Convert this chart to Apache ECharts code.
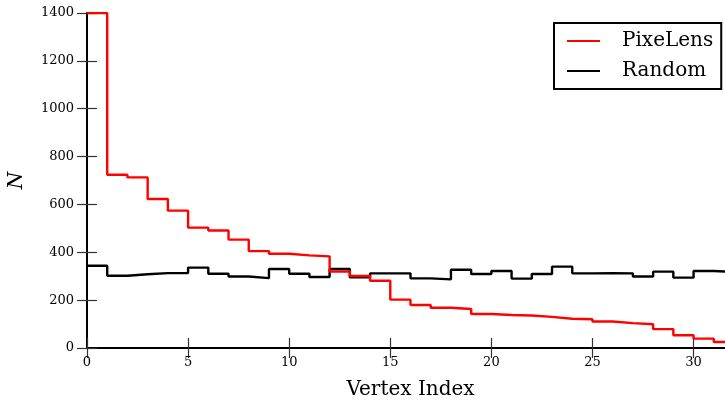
<!DOCTYPE html>
<html><head><meta charset="utf-8">
<script src="https://cdn.jsdelivr.net/npm/echarts@6/dist/echarts.min.js"></script>
<style>html,body{margin:0;padding:0;background:#fff}#c{width:725px;height:400px}</style>
</head><body><div id="c"></div>
<script>
const xTicks = [0, 5, 10, 15, 20, 25, 30];
const yTicks = [0, 200, 400, 600, 800, 1000, 1200, 1400];
const pixeLens = [1400, 724, 713, 623, 574, 503, 491, 453, 405, 394, 387, 383,
  320, 301, 281, 202, 180, 168, 163, 142, 138, 136, 130, 122,
  120, 111, 104, 99, 79, 53, 39, 25];
const random = [344, 302, 308, 313, 313, 336, 310, 299, 292, 330, 310, 297,
  330, 295, 312, 312, 291, 287, 327, 309, 322, 290, 309, 340,
  312, 313, 312, 299, 319, 294, 322, 318];

function toSteps(arr){
  const d = arr.map((v,i)=>[i,v]);
  d.push([arr.length, arr[arr.length-1]]);
  return d;
}
const FONT = 'DejaVu Serif';
const chart = echarts.init(document.getElementById('c'));
const axisCommon = {
  type:'value', min:0,
  axisLine:{show:true, lineStyle:{color:'#000', width:2}},
  axisTick:{show:true, inside:true, length:10, lineStyle:{color:'#333', width:1.2}},
  splitLine:{show:false}
};
chart.setOption({
  animation:false,
  grid:{left:87, top:13, width:647, height:335, containLabel:false, outerBoundsMode:'none'},
  legend:{
    orient:'vertical', left:554, top:23,
    data:['PixeLens','Random'],
    icon:'rect', itemWidth:33, itemHeight:2, itemGap:10,
    borderColor:'#000', borderWidth:2, borderRadius:0,
    padding:[8,8,8,13],
    backgroundColor:'#fff',
    textStyle:{fontFamily:FONT, fontSize:20, color:'#000', padding:[0,0,0,17], lineHeight:20}
  },
  xAxis:[
    Object.assign({}, axisCommon, {max:32, interval:5, position:'bottom',
      name:'Vertex Index', nameLocation:'middle', nameGap:32,
      nameTextStyle:{fontFamily:FONT, fontSize:20, color:'#000'},
      axisLabel:{fontFamily:FONT, fontSize:13, color:'#000', margin:8,
        formatter:v=>xTicks.includes(v)?String(v):''}}),
    Object.assign({}, axisCommon, {max:32, interval:5, position:'top', axisLabel:{show:false}})
  ],
  yAxis:[
    Object.assign({}, axisCommon, {max:1400, interval:200, position:'left',
      name:'N', nameLocation:'middle', nameGap:60,
      nameTextStyle:{fontFamily:FONT, fontSize:20, fontStyle:'italic', color:'#000'},
      axisLabel:{fontFamily:FONT, fontSize:13, color:'#000', margin:13,
        formatter:v=>yTicks.includes(v)?String(v):''}}),
    Object.assign({}, axisCommon, {max:1400, interval:200, position:'right', axisLabel:{show:false}})
  ],
  series:[
    {name:'PixeLens', type:'line', step:'end', data:toSteps(pixeLens), symbol:'none',
      lineStyle:{color:'#ff0000', width:2.4}, itemStyle:{color:'#ff0000'}, z:3},
    {name:'Random', type:'line', step:'end', data:toSteps(random), symbol:'none',
      lineStyle:{color:'#000', width:2.4}, itemStyle:{color:'#000'}, z:2}
  ]
});
</script></body></html>
